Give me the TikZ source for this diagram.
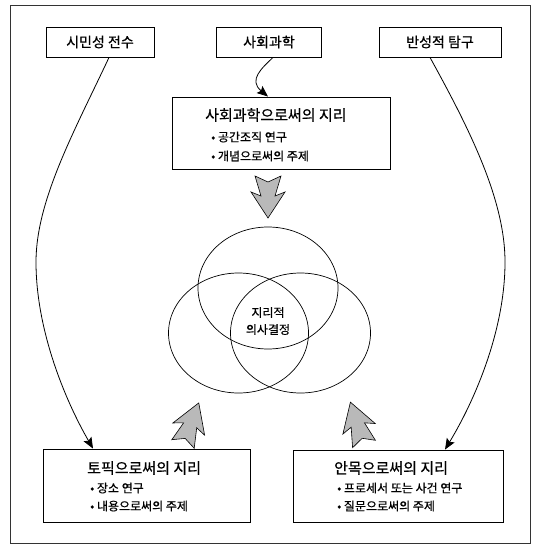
\documentclass[tikz,border=0pt]{standalone}
\usepackage{fontspec}
\setmainfont{Noto Sans CJK KR}[FakeBold=0.6]
\usetikzlibrary{arrows.meta}
\begin{document}
\begin{tikzpicture}[x=1pt,y=-1pt,
  box/.style={draw=black, line width=0.9pt, fill=white, inner sep=0pt},
  toplbl/.style={font=\fontsize{14}{16}\selectfont},
  ttl/.style={font=\fontsize{15}{17}\selectfont, inner sep=0pt, anchor=west},
  bul/.style={font=\fontsize{12}{14}\selectfont, inner sep=0pt, anchor=west},
  con/.style={line width=0.8pt, -{Stealth[length=11pt,width=9pt,inset=2pt]}},
  garr/.style={draw=black, line width=0.6pt, fill=gray!55},
  venn/.style={line width=0.7pt}]
\useasboundingbox (0,0) rectangle (536,545);
% outer frame
\draw[line width=0.8pt, black!80] (10,5) rectangle (530,543);

% top row boxes
\node[box, toplbl, minimum width=108pt, minimum height=30pt] (citizen) at (100,42) {시민성 전수};
\node[box, toplbl, minimum width=105pt, minimum height=30pt] (social) at (269,42) {사회과학};
\node[box, toplbl, minimum width=122pt, minimum height=30pt] (reflect) at (440,42) {반성적 탐구};

% middle box
\node[box, minimum width=218pt, minimum height=72pt] (geosoc) at (281,133) {};
\node[ttl] (geosocT) at (205,115) {사회과학으로써의 지리};
\node[bul] (geosocA) at (211,137) {• 공간조직 연구};
\node[bul] (geosocB) at (211,156) {• 개념으로써의 주제};

% bottom boxes
\node[box, minimum width=207pt, minimum height=73pt] (topic) at (146.5,485.5) {};
\node[ttl] (topicT) at (87,468) {토픽으로써의 지리};
\node[bul] (topicA) at (90,488) {• 장소 연구};
\node[bul] (topicB) at (90,506) {• 내용으로써의 주제};

\node[box, minimum width=210pt, minimum height=72pt] (lens) at (398,486) {};
\node[ttl] (lensT) at (334,468) {안목으로써의 지리};
\node[bul] (lensA) at (337,488) {• 프로세서 또는 사건 연구};
\node[bul] (lensB) at (337,506) {• 질문으로써의 주제};

% venn diagram
\draw[venn] (268,288) ellipse [x radius=70, y radius=61];
\draw[venn] (238.5,333) ellipse [x radius=70, y radius=60];
\draw[venn] (300.5,333) ellipse [x radius=70, y radius=60];
\node[font=\fontsize{12}{14}\selectfont, align=center, inner sep=0pt] (decision) at (268,321) {지리적\\[3pt]의사결정};

% curved connectors
\coordinate (lmid) at (36,262);
\coordinate (rmid) at (505,262);
\draw[con] (citizen.south -| 109,0) .. controls (75,130) and (36,200) .. (lmid)
  .. controls (36,330) and (65,400) .. (topic.north -| 93,0);
\draw[con] (reflect.south -| 430,0) .. controls (470,130) and (505,200) .. (rmid)
  .. controls (505,330) and (475,400) .. (lens.north -| 445,0);
\draw[con] (social.south -| 273,0) .. controls (262,68) and (248,80) .. (geosoc.north -| 268,0);

% gray block arrows
\draw[garr, shift={(268,176)}, rotate=-90]
  (6,0) -- (0,13) -- (20,7) -- (16,17) -- (42,0) -- (16,-17) -- (20,-7) -- (0,-13) -- cycle;
\draw[garr, shift={(183,444)}, rotate=69]
  (6,0) -- (0,12) -- (20,7) -- (16,17) -- (44,0) -- (16,-17) -- (20,-7) -- (0,-12) -- cycle;
\draw[garr, shift={(364,444)}, rotate=108]
  (6,0) -- (0,12) -- (20,7) -- (16,17) -- (44,0) -- (16,-17) -- (20,-7) -- (0,-12) -- cycle;
\end{tikzpicture}
\end{document}
